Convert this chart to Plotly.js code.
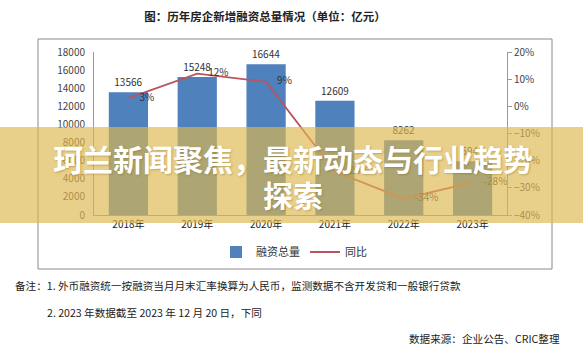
<!DOCTYPE html>
<html>
<head>
<meta charset="utf-8">
<script src="https://cdn.plot.ly/plotly-3.0.1.min.js"></script>
<style>html,body{margin:0;padding:0;background:#fff;}#chart{width:583px;height:351px;}</style>
</head>
<body>
<div id="chart"></div>
<script>
const years = ["2018年", "2019年", "2020年", "2021年", "2022年", "2023年"];
const financing = [13566, 15248, 16644, 12609, 8262, 5949];
const yoy = [3, 12, 9, -24, -34, -28];
const yoyLabels = ["3%", "12%", "9%", "-24%", "-34%", "-28%"];
const seriesNames = ["融资总量", "同比"];
const chartTitle = "图：历年房企新增融资总量情况（单位：亿元）";
const note1 = "备注：1. 外币融资统一按融资当月月末汇率换算为人民币，监测数据不含开发贷和一般银行贷款";
const note2 = "2. 2023 年数据截至 2023 年 12 月 20 日，下同";
const sourceText = "数据来源：企业公告、CRIC整理";
const bannerLine1 = "珂兰新闻聚焦，最新动态与行业趋势";
const bannerLine2 = "探索";

const FONT = "'Noto Sans CJK SC', 'Noto Sans', sans-serif";
// plot area: x 94..507, y 52..215
const L = 94, R = 507, T = 52, B = 215;
const px = v => (v - L) / (R - L);
const py = v => (B - v) / (B - T);

const traces = [
  {
    type: "bar", x: years, y: financing, name: seriesNames[0],
    marker: {color: "#4F81BD"},
    text: financing.map(String), textposition: "outside", cliponaxis: false,
    textfont: {family: FONT, size: 10, color: "#333"},
    hoverinfo: "x+y"
  },
  {
    type: "scatter", mode: "lines+markers+text", x: years, y: yoy, yaxis: "y2", name: seriesNames[1],
    line: {color: "#B9545F", width: 1.8},
    marker: {size: 16, color: "rgba(0,0,0,0)", line: {width: 0}},
    text: yoyLabels, textposition: "middle right", cliponaxis: false,
    textfont: {family: FONT, size: 10, color: "#333"}
  }
];

const layout = {
  width: 583, height: 351,
  margin: {l: L, r: 583 - R, t: T, b: 351 - B, pad: 0},
  paper_bgcolor: "#fff", plot_bgcolor: "#fff",
  font: {family: FONT, size: 10, color: "#444"},
  title: {
    text: chartTitle, x: 265 / 583, xanchor: "center", y: 1 - 17 / 351, yanchor: "middle",
    font: {family: FONT, size: 11.5, color: "#222", weight: "bold"}
  },
  bargap: 0.43,
  showlegend: true,
  legend: {
    orientation: "h", x: px(294), xanchor: "center", y: py(252), yanchor: "middle",
    font: {family: FONT, size: 11, color: "#333"}, bgcolor: "rgba(0,0,0,0)",
    itemwidth: 30, traceorder: "normal"
  },
  xaxis: {
    type: "category", showline: true, linecolor: "#999", linewidth: 1,
    showgrid: false, zeroline: false, ticks: "",
    tickfont: {family: FONT, size: 10, color: "#222"}, fixedrange: true
  },
  yaxis: {
    range: [0, 18000], dtick: 2000, tickformat: "d", showline: true, linecolor: "#999", linewidth: 1,
    showgrid: false, zeroline: false, ticks: "", ticklabelstandoff: 6,
    tickfont: {family: FONT, size: 10, color: "#444"}, fixedrange: true
  },
  yaxis2: {
    overlaying: "y", side: "right", range: [-40, 20], dtick: 10, ticksuffix: "%",
    showline: true, linecolor: "#999", linewidth: 1, ticks: "outside", ticklen: 4, tickcolor: "#999",
    showgrid: false, zeroline: false,
    tickfont: {family: FONT, size: 10, color: "#444"}, fixedrange: true
  },
  shapes: [
    {type: "rect", xref: "paper", yref: "paper", x0: px(38), x1: px(552), y0: py(269), y1: py(39),
     line: {color: "#8a8a8a", width: 1}, fillcolor: "rgba(0,0,0,0)", layer: "below"},
    {type: "rect", xref: "paper", yref: "paper", x0: px(-5), x1: px(590), y0: py(223), y1: py(127),
     line: {width: 0}, fillcolor: "rgba(222,184,78,0.66)", layer: "above"}
  ],
  annotations: [
    {xref: "paper", yref: "paper", x: px(292.5), y: py(158), xanchor: "center", yanchor: "middle",
     text: bannerLine1, showarrow: false,
     font: {family: FONT, size: 30, color: "#ffffff", weight: "bold", shadow: "1px 1px 2px rgba(120,90,20,0.35)"}},
    {xref: "paper", yref: "paper", x: px(292.5), y: py(194), xanchor: "center", yanchor: "middle",
     text: bannerLine2, showarrow: false,
     font: {family: FONT, size: 30, color: "#ffffff", weight: "bold", shadow: "1px 1px 2px rgba(120,90,20,0.35)"}},
    {xref: "paper", yref: "paper", x: px(13), y: py(285), xanchor: "left", yanchor: "middle",
     text: note1, showarrow: false, font: {family: FONT, size: 10.6, color: "#222"}},
    {xref: "paper", yref: "paper", x: px(45), y: py(312), xanchor: "left", yanchor: "middle",
     text: note2, showarrow: false, font: {family: FONT, size: 10.6, color: "#222"}},
    {xref: "paper", yref: "paper", x: px(407), y: py(338), xanchor: "left", yanchor: "middle",
     text: sourceText, showarrow: false, font: {family: FONT, size: 10.6, color: "#222"}}
  ]
};

Plotly.newPlot("chart", traces, layout, {displayModeBar: false, staticPlot: true});
</script>
</body>
</html>
